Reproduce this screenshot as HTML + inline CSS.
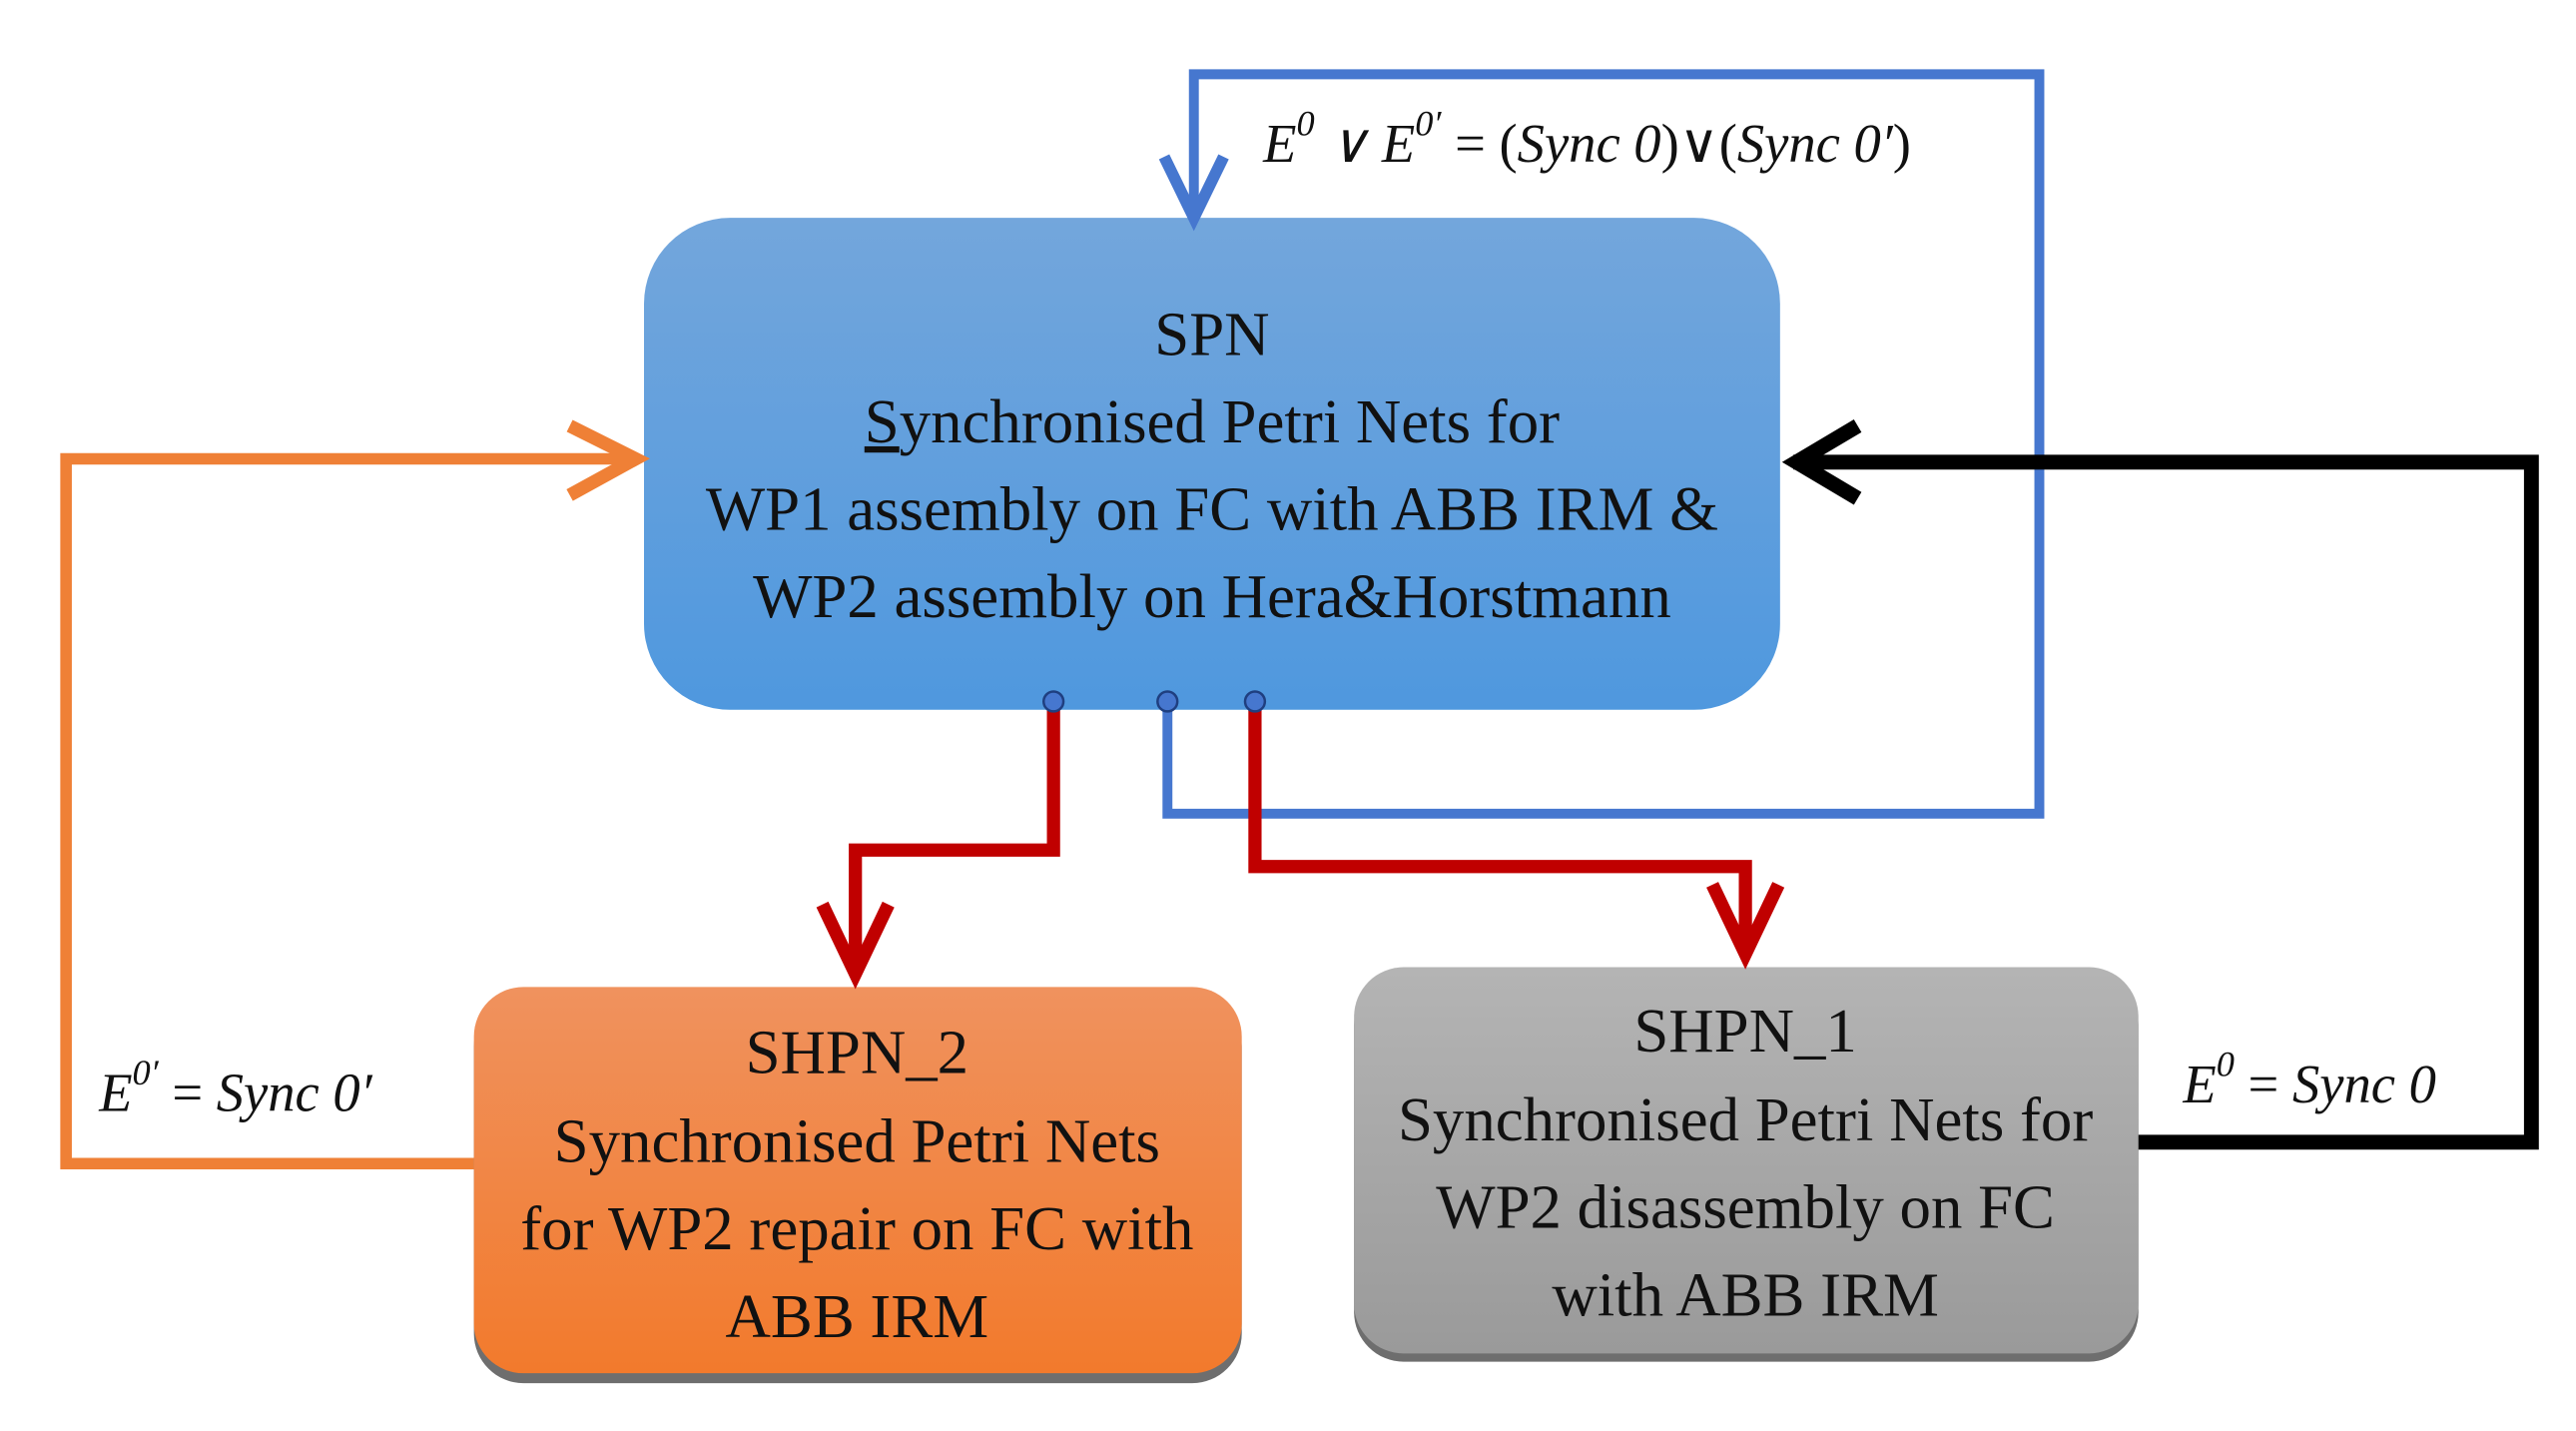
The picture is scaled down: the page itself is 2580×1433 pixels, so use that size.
<!DOCTYPE html>
<html><head><meta charset="utf-8"><style>
html,body{margin:0;padding:0;background:#fff;}
svg{display:block}
text{font-family:"Liberation Serif",serif;}
</style></head><body>
<svg width="2580" height="1433" viewBox="0 0 1560 867" preserveAspectRatio="none" xmlns="http://www.w3.org/2000/svg">
<defs>
<linearGradient id="gb" x1="0" y1="0" x2="0" y2="1"><stop offset="0" stop-color="#73a6dc"/><stop offset="1" stop-color="#4f98de"/></linearGradient>
<linearGradient id="go" x1="0" y1="0" x2="0" y2="1"><stop offset="0" stop-color="#f0925e"/><stop offset="1" stop-color="#f27a2c"/></linearGradient>
<linearGradient id="gg" x1="0" y1="0" x2="0" y2="1"><stop offset="0" stop-color="#b4b4b4"/><stop offset="1" stop-color="#9a9a9a"/></linearGradient>
</defs>
<rect x="390" y="132" width="688" height="298" rx="52" fill="url(#gb)"/>
<rect x="287" y="604" width="465" height="234" rx="30" fill="#6e6e6e"/>
<rect x="287" y="598" width="465" height="234" rx="30" fill="url(#go)"/>
<rect x="820" y="591" width="475" height="234" rx="30" fill="#6e6e6e"/>
<rect x="820" y="586" width="475" height="234" rx="30" fill="url(#gg)"/>
<polyline points="707,425 707,493 1235,493 1235,45 723,45 723,130" fill="none" stroke="#4677cf" stroke-width="6"/>
<polyline points="705,95 723,132 741,95" fill="none" stroke="#4677cf" stroke-width="7"/>
<polyline points="638,425 638,515 518,515 518,590" fill="none" stroke="#c00000" stroke-width="8"/>
<polyline points="498,548 518,590 538,548" fill="none" stroke="#c00000" stroke-width="8"/>
<polyline points="760,425 760,525 1057,525 1057,578" fill="none" stroke="#c00000" stroke-width="8"/>
<polyline points="1037,536 1057,578 1077,536" fill="none" stroke="#c00000" stroke-width="8"/>
<polyline points="287,705 40,705 40,278 385,278" fill="none" stroke="#ef8036" stroke-width="7"/>
<polyline points="345,258 385,278 345,300" fill="none" stroke="#ef8036" stroke-width="8"/>
<polyline points="1295,692 1533,692 1533,280 1086,280" fill="none" stroke="#000" stroke-width="9"/>
<polyline points="1125,258 1088,280 1125,302" fill="none" stroke="#000" stroke-width="9"/>
<circle cx="638" cy="425" r="6" fill="#4677cf" stroke="#1f3f80" stroke-width="1.5"/>
<circle cx="707" cy="425" r="6" fill="#4677cf" stroke="#1f3f80" stroke-width="1.5"/>
<circle cx="760" cy="425" r="6" fill="#4677cf" stroke="#1f3f80" stroke-width="1.5"/>
<g font-size="38" fill="#111" text-anchor="middle">
<text x="734" y="215">SPN</text>
<text x="734" y="268"><tspan text-decoration="underline">S</tspan>ynchronised Petri Nets for</text>
<text x="734" y="321">WP1 assembly on FC with ABB IRM &amp;</text>
<text x="734" y="374">WP2 assembly on Hera&amp;Horstmann</text>
<text x="519" y="650">SHPN_2</text>
<text x="519" y="704">Synchronised Petri Nets</text>
<text x="519" y="757">for WP2 repair on FC with</text>
<text x="519" y="810">ABB IRM</text>
<text x="1057" y="637">SHPN_1</text>
<text x="1057" y="691">Synchronised Petri Nets for</text>
<text x="1057" y="744">WP2 disassembly on FC</text>
<text x="1057" y="797">with ABB IRM</text>
</g>
<g font-size="33" fill="#111" font-style="italic">
<text x="765" y="98">E<tspan dy="-16" font-size="22">0</tspan><tspan dy="16"> ∨ E</tspan><tspan dy="-16" font-size="22">0′</tspan><tspan dy="16" font-style="normal"> = (</tspan>Sync  0<tspan font-style="normal">)∨(</tspan>Sync  0′<tspan font-style="normal">)</tspan></text>
<text x="60" y="673">E<tspan dy="-16" font-size="22">0′</tspan><tspan dy="16" font-style="normal"> = </tspan>Sync 0′</text>
<text x="1322" y="668">E<tspan dy="-16" font-size="22">0</tspan><tspan dy="16" font-style="normal"> = </tspan>Sync 0</text>
</g>
</svg>
</body></html>
